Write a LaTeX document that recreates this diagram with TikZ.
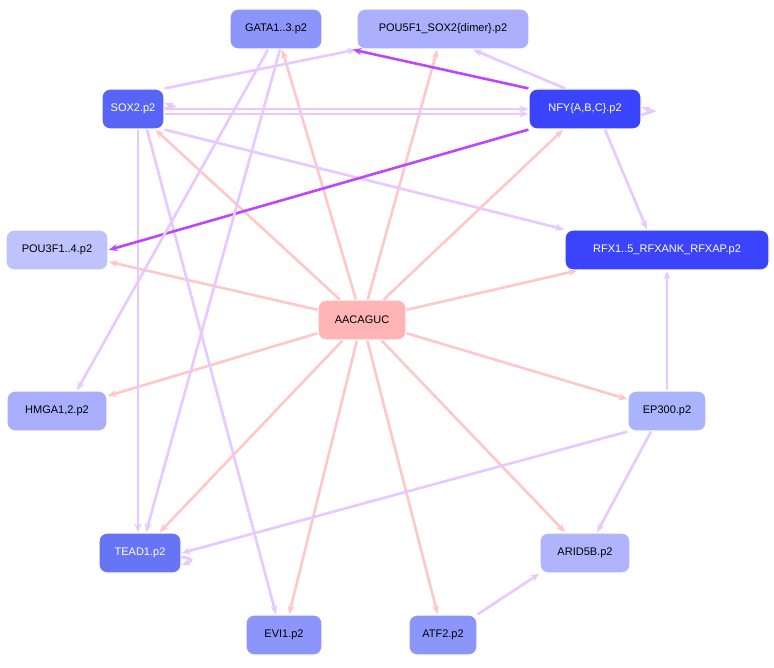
\documentclass[tikz,border=0pt]{standalone}
\usepackage{fontspec}
\setmainfont{Liberation Sans}
\usetikzlibrary{arrows.meta}
\definecolor{pinkE}{RGB}{255,200,200}
\definecolor{lilacE}{RGB}{232,200,255}
\definecolor{violetE}{RGB}{190,70,250}
\definecolor{pinkN}{RGB}{255,180,182}
\tikzset{
  gene/.style={draw=white,line width=1.2pt,rounded corners=8pt,minimum height=40pt,
    inner xsep=8pt,font=\fontsize{11}{13}\selectfont},
  hub/.style={-{Stealth[length=9pt,width=7pt]},pinkE,line width=2.6pt},
  reg/.style={-{Stealth[length=9pt,width=7pt]},lilacE,line width=2.6pt},
  strong/.style={-{Stealth[length=9pt,width=7pt]},violetE,line width=2.6pt}
}
\begin{document}
\begin{tikzpicture}[x=1pt,y=-1pt]
    \useasboundingbox (0,0) rectangle (774,668);
    % knoten
    \node[gene,fill=pinkN,minimum width=88pt] (aac) at (362,320) {AACAGUC};
    \node[gene,fill={rgb,255:red,140;green,150;blue,250},minimum width=92pt] (gata) at (276,29) {GATA1..3.p2};
    \node[gene,fill={rgb,255:red,172;green,176;blue,252},minimum width=172pt] (pou5) at (443,29) {POU5F1\_SOX2\{dimer\}.p2};
    \node[gene,fill={rgb,255:red,88;green,100;blue,245},text=white,minimum width=62pt] (sox) at (133,109) {SOX2.p2};
    \node[gene,fill={rgb,255:red,58;green,68;blue,250},text=white,minimum width=112pt] (nfy) at (585,109) {NFY\{A,B,C\}.p2};
    \node[gene,fill={rgb,255:red,190;green,195;blue,252},minimum width=102pt] (pou3) at (57,250) {POU3F1..4.p2};
    \node[gene,fill={rgb,255:red,58;green,68;blue,250},text=white,minimum width=204pt] (rfx) at (667,250) {RFX1..5\_RFXANK\_RFXAP.p2};
    \node[gene,fill={rgb,255:red,168;green,174;blue,252},minimum width=100pt] (hmga) at (57,411) {HMGA1,2.p2};
    \node[gene,fill={rgb,255:red,170;green,180;blue,252},minimum width=78pt] (ep) at (667,411) {EP300.p2};
    \node[gene,fill={rgb,255:red,102;green,116;blue,245},text=white,minimum width=82pt] (tead) at (140,553) {TEAD1.p2};
    \node[gene,fill={rgb,255:red,175;green,180;blue,252},minimum width=90pt] (arid) at (585,553) {ARID5B.p2};
    \node[gene,fill={rgb,255:red,140;green,150;blue,250},minimum width=76pt] (evi) at (284,635) {EVI1.p2};
    \node[gene,fill={rgb,255:red,140;green,150;blue,250},minimum width=68pt] (atf) at (443,635) {ATF2.p2};

    % kanten vom zentrum
    \begin{scope}[on background layer/.try]
    \foreach \t in {gata,pou5,sox,nfy,pou3,rfx,hmga,ep,tead,arid,evi,atf}
        \draw[hub] (aac) -- (\t);
    \end{scope}

    % weitere kanten
    \draw[reg] (sox.north east) -- (pou5.south west);
    \draw[reg] (sox.east) -- (nfy.west);
    \draw[reg] ([yshift=-5pt]sox.east) -- ([yshift=-5pt]nfy.west);
    \draw[reg] (sox.south east) -- (rfx.north west);
    \draw[reg] ([xshift=5pt]sox.south) -- ([xshift=-2pt]tead.north);
    \draw[reg] ([xshift=14pt]sox.south) -- ([xshift=-8pt]evi.north);
    \draw[reg] (sox.east) to[out=20,in=-20,looseness=5] ([yshift=6pt]sox.east);
    \draw[strong] (nfy.north west) -- ([xshift=30pt]gata.south east);
    \draw[strong] (nfy.south west) -- (pou3.east);
    \draw[reg] ([xshift=-20pt]nfy.north) -- ([xshift=30pt]pou5.south);
    \draw[reg] ([xshift=20pt]nfy.south) -- ([xshift=-20pt]rfx.north);
    \draw[reg] ([yshift=-6pt]nfy.east) to[out=20,in=-20,looseness=5] ([yshift=2pt]nfy.east);
    \draw[reg] ([xshift=-8pt]gata.south) -- ([xshift=20pt]hmga.north);
    \draw[reg] ([xshift=4pt]gata.south) -- ([xshift=6pt]tead.north);
    \draw[reg] (ep.north) -- ([yshift=0pt]ep.north |- rfx.south);
    \draw[reg] (ep.south west) -- (tead.east);
    \draw[reg] ([xshift=-16pt]ep.south) -- ([xshift=12pt]arid.north);
    \draw[reg] (atf.north east) -- (arid.south west);
    \draw[reg] ([yshift=-4pt]tead.east) to[out=-10,in=20,looseness=4] ([yshift=-12pt]tead.east);
\end{tikzpicture}
\end{document}
